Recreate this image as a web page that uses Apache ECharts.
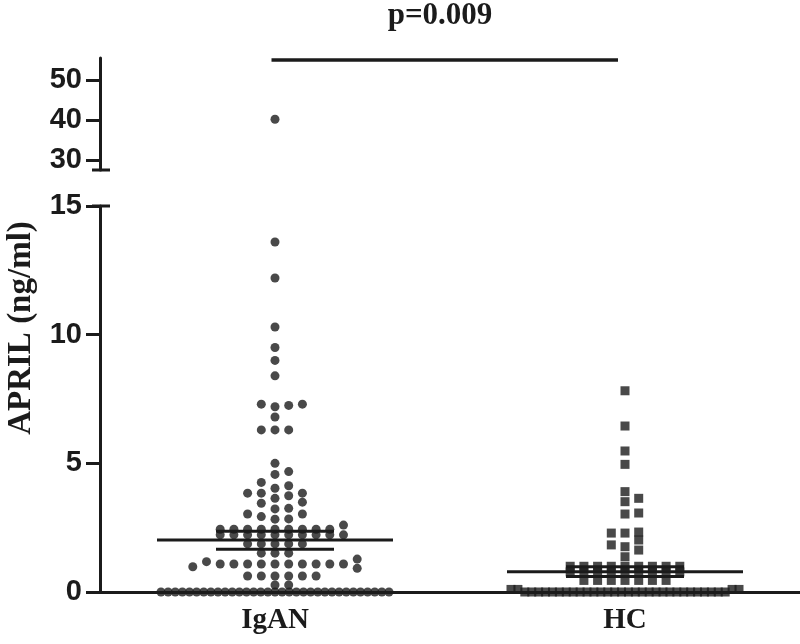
<!DOCTYPE html>
<html>
<head>
<meta charset="utf-8">
<style>
  html, body { margin: 0; padding: 0; background: #fff; }
  #chart { width: 800px; height: 644px; }
</style>
<script src="https://cdn.jsdelivr.net/npm/echarts@6/dist/echarts.min.js"></script>
</head>
<body>
<div id="chart"></div>
<script>
// ---------------- data ----------------
const categories = ['IgAN', 'HC'];

const igan = [
  40.2,
  13.6, 12.2, 10.3, 9.5, 9.0, 8.4,
  7.3, 7.2, 7.25, 7.3, 6.8,
  6.3, 6.3, 6.3,
  5.0, 4.68, 4.57, 4.26, 4.13, 4.03,
  3.84, 3.84, 3.84, 3.74, 3.64, 3.49, 3.45,
  3.25, 3.23, 3.03, 3.03, 2.93, 2.84, 2.83,
  2.6,
  2.44, 2.44, 2.44, 2.44, 2.44, 2.44, 2.44, 2.44, 2.44,
  2.22, 2.22, 2.22, 2.22, 2.22, 2.22, 2.22, 2.22, 2.22, 2.22,
  1.87, 1.87, 1.87, 1.87, 1.87,
  1.51, 1.51, 1.51,
  1.28, 1.18,
  1.09, 1.09, 1.09, 1.09, 1.09, 1.09, 1.09, 1.09, 1.09, 1.09,
  0.98, 0.92,
  0.62, 0.62, 0.62, 0.62, 0.62, 0.62,
  0.27, 0.27,
  0, 0, 0, 0, 0, 0, 0, 0, 0, 0, 0, 0, 0, 0, 0, 0, 0,
  0, 0, 0, 0, 0, 0, 0, 0, 0, 0, 0, 0, 0, 0, 0, 0
];

const hc = [
  7.82, 6.45, 5.48, 4.96, 3.9, 3.64, 3.51,
  3.07, 3.03, 2.33, 2.29, 2.29, 2.02,
  1.83, 1.76, 1.63, 1.37,
  1.0, 1.0, 1.0, 1.0, 1.0, 1.0, 1.0, 1.0, 1.0,
  0.78, 0.78, 0.78, 0.78, 0.78, 0.78, 0.78, 0.78, 0.78,
  0.45, 0.45, 0.45, 0.45, 0.45, 0.45, 0.45,
  0.1, 0.1, 0.1, 0.1,
  0, 0, 0, 0, 0, 0, 0, 0, 0, 0, 0, 0, 0, 0, 0,
  0, 0, 0, 0, 0, 0, 0, 0, 0, 0, 0, 0, 0, 0, 0
];

// mean and SEM bounds
const means    = [2.02, 0.79];
const semLower = [1.66, 0.6];
const semUpper = [2.36, 0.98];

const pValueText = 'p=0.009';
const yTitle = 'APRIL (ng/ml)';
const upperTicks = [30, 40, 50];
const lowerRange = [0, 15];
const upperRange = [27.5, 55.5];
const sigBarValue = 55;

// ---------------- layout helpers ----------------
const INK = '#1b1b1b';
const GRID_LEFT = 100, GRID_RIGHT = 0;
const LOWER_TOP = 206, LOWER_BOTTOM = 52;
const plotW = 800 - GRID_LEFT - GRID_RIGHT;
const pxPerX = plotW / 2;                                   // x value axis spans 0..2
const pxPerYLow = (644 - LOWER_TOP - LOWER_BOTTOM) / (lowerRange[1] - lowerRange[0]);
const rowThreshold = 0.12;           // values closer than this form one row
const slotPx = 13.7;                 // spacing of points in a row
const bigRow = 9;                    // rows this full are laid out as a block
const maxSlots = 17;                 // rows with more points get squeezed
const maxRowPx = 228;                // width of a squeezed row
const collidePx = 7.5;               // vertical distance below which two points clash

function slotOrder(k) { return k === 0 ? 0 : (k % 2 === 1 ? (k + 1) / 2 : -k / 2); }

function swarm(values, center, pxPerY) {
  const sorted = values.slice().sort((a, b) => a - b);
  const rows = [];
  let cur = null;
  sorted.forEach(v => {
    if (!cur || v - cur.start >= rowThreshold) { cur = { start: v, items: [] }; rows.push(cur); }
    cur.items.push(v);
  });
  const out = [];
  const placed = [];   // [slot, value] used for collision tests
  // 1) full rows: centred blocks
  rows.filter(r => r.items.length >= bigRow).forEach(r => {
    const n = r.items.length;
    const squeezed = n > maxSlots;
    const sp = squeezed ? maxRowPx / (n - 1) : slotPx;
    const slots = r.items.map((v, k) => slotOrder(k));
    const meanSlot = Math.round(slots.reduce((a, b) => a + b, 0) / n * 2) / 2;
    r.items.forEach((v, k) => {
      const s = slots[k] - (squeezed ? slots.reduce((a, b) => a + b, 0) / n : 0);
      out.push([center + s * sp / pxPerX, v]);
      if (!squeezed) placed.push([s, v]);
    });
  });
  // 2) remaining points: nearest free slot
  rows.filter(r => r.items.length < bigRow).forEach(r => {
    r.items.forEach(v => {
      for (let k = 0; k < 60; k++) {
        const s = slotOrder(k);
        const clash = placed.some(p => p[0] === s && Math.abs(p[1] - v) * pxPerY < collidePx);
        if (!clash) {
          placed.push([s, v]);
          out.push([center + s * slotPx / pxPerX, v]);
          break;
        }
      }
    });
  });
  return out;
}

const breakAt = lowerRange[1];
const iganLow = swarm(igan.filter(v => v <= breakAt), 0.5, pxPerYLow);
const iganHigh = swarm(igan.filter(v => v > breakAt), 0.5, 4);
const hcLow = swarm(hc.filter(v => v <= breakAt), 1.5, pxPerYLow);
const hcHigh = swarm(hc.filter(v => v > breakAt), 1.5, 4);

const statData = categories.map((c, i) => [i + 0.5, means[i], semLower[i], semUpper[i]]);

const axisLabelStyle = { fontFamily: 'Liberation Sans', fontWeight: 'bold', fontSize: 29, color: INK };

const chart = echarts.init(document.getElementById('chart'), null, { renderer: 'canvas' });
const option = {
  animation: false,
  backgroundColor: '#fff',
  grid: [
    { left: GRID_LEFT, right: GRID_RIGHT, top: 58, height: 112 },
    { left: GRID_LEFT, right: GRID_RIGHT, top: LOWER_TOP, bottom: LOWER_BOTTOM }
  ],
  xAxis: [
    { gridIndex: 0, type: 'value', min: 0, max: 2, show: false },
    {
      gridIndex: 1, type: 'category', data: categories, boundaryGap: true,
      axisLine: { lineStyle: { color: INK, width: 3 } },
      axisTick: { alignWithLabel: true, length: 10, lineStyle: { color: INK, width: 3 } },
      axisLabel: { fontFamily: 'Liberation Serif', fontWeight: 'bold', fontSize: 29, color: INK, margin: 14 },
      splitLine: { show: false }
    },
    { gridIndex: 1, type: 'value', min: 0, max: 2, show: false }
  ],
  yAxis: [
    {
      gridIndex: 0, type: 'value', min: upperRange[0], max: upperRange[1],
      axisLine: { show: true, lineStyle: { color: INK, width: 3 } },
      axisTick: { show: true, customValues: upperTicks, length: 14, lineStyle: { color: INK, width: 3 } },
      axisLabel: Object.assign({ customValues: upperTicks, margin: 18 }, axisLabelStyle),
      splitLine: { show: false }
    },
    {
      gridIndex: 1, type: 'value', min: lowerRange[0], max: lowerRange[1], interval: 5,
      axisLine: { show: true, lineStyle: { color: INK, width: 3 } },
      axisTick: { show: true, length: 14, lineStyle: { color: INK, width: 3 } },
      axisLabel: Object.assign({ margin: 18 }, axisLabelStyle),
      splitLine: { show: false }
    }
  ],
  series: [
    { type: 'scatter', xAxisIndex: 0, yAxisIndex: 0, data: iganHigh, symbol: 'circle', symbolSize: 9,
      itemStyle: { color: INK }, silent: true },
    { type: 'scatter', xAxisIndex: 0, yAxisIndex: 0, data: hcHigh, symbol: 'rect', symbolSize: 9,
      itemStyle: { color: INK }, silent: true },
    { type: 'scatter', xAxisIndex: 2, yAxisIndex: 1, data: iganLow, symbol: 'circle', symbolSize: 9,
      itemStyle: { color: INK }, silent: true, clip: false },
    { type: 'scatter', xAxisIndex: 2, yAxisIndex: 1, data: hcLow, symbol: 'rect', symbolSize: 9,
      itemStyle: { color: INK }, silent: true, clip: false },
    {
      type: 'custom', xAxisIndex: 2, yAxisIndex: 1, data: statData, z: 5, silent: true,
      renderItem(params, api) {
        const c = api.coord([api.value(0), api.value(1)]);
        const lo = api.coord([api.value(0), api.value(2)]);
        const hi = api.coord([api.value(0), api.value(3)]);
        const st = { stroke: INK, lineWidth: 3 };
        return { type: 'group', children: [
          { type: 'line', shape: { x1: c[0] - 118, y1: c[1], x2: c[0] + 118, y2: c[1] }, style: st },
          { type: 'line', shape: { x1: lo[0] - 59, y1: lo[1], x2: lo[0] + 59, y2: lo[1] }, style: st },
          { type: 'line', shape: { x1: hi[0] - 59, y1: hi[1], x2: hi[0] + 59, y2: hi[1] }, style: st }
        ] };
      }
    },
    {
      type: 'line', xAxisIndex: 0, yAxisIndex: 0, symbol: 'none', silent: true,
      data: [[0.49, sigBarValue], [1.48, sigBarValue]],
      lineStyle: { color: INK, width: 3.5 }
    }
  ]
};
chart.setOption(option);

// axis-break caps and free text
const upperCapY = chart.convertToPixel({ yAxisIndex: 0 }, upperRange[0]);
const lowerCapY = chart.convertToPixel({ yAxisIndex: 1 }, lowerRange[1]);
chart.setOption({
  graphic: [
    { type: 'line', shape: { x1: GRID_LEFT - 8, y1: upperCapY, x2: GRID_LEFT + 10, y2: upperCapY },
      style: { stroke: INK, lineWidth: 3 } },
    { type: 'line', shape: { x1: GRID_LEFT - 8, y1: lowerCapY, x2: GRID_LEFT + 10, y2: lowerCapY },
      style: { stroke: INK, lineWidth: 3 } },
    { type: 'text', x: 440, y: 16, style: { text: pValueText, textAlign: 'center', textVerticalAlign: 'middle',
      font: 'bold 31px "Liberation Serif"', fill: INK } },
    { type: 'text', x: 21, y: 328, rotation: Math.PI / 2,
      style: { text: yTitle, textAlign: 'center', textVerticalAlign: 'middle',
        font: 'bold 33px "Liberation Serif"', fill: INK } }
  ]
});
</script>
</body>
</html>
